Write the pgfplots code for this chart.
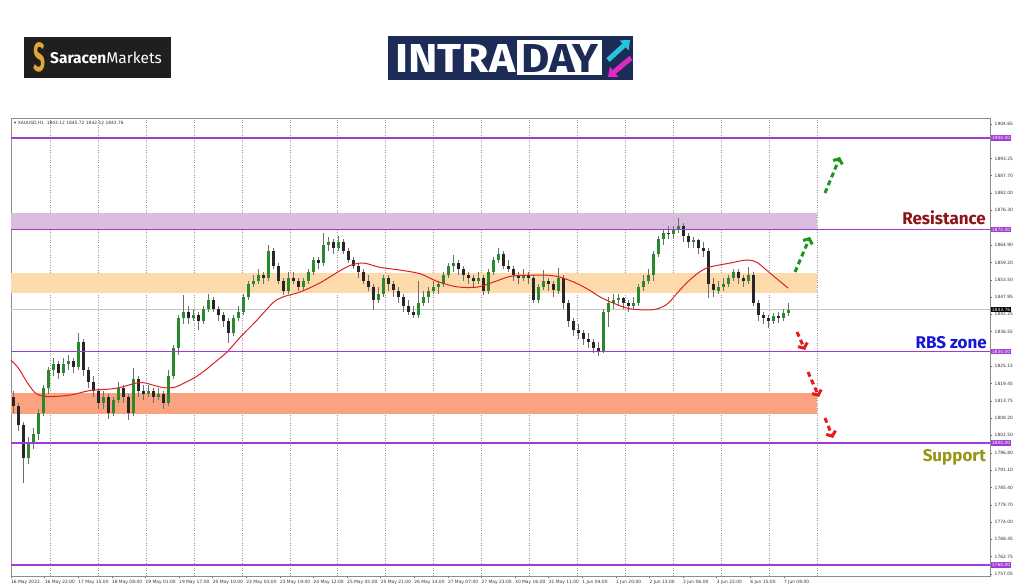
\documentclass[border=0pt]{standalone}
\usepackage{fontspec}
\setmainfont{DejaVu Sans}
\newfontfamily\fira{Fira Sans}
\usepackage{pgfplots}
\pgfplotsset{compat=1.18}
\usepackage{pgfplotstable}
\usetikzlibrary{arrows.meta}
\definecolor{purp}{RGB}{160,60,210}
\definecolor{zpurp}{RGB}{216,190,220}
\definecolor{zpeach}{RGB}{252,218,172}
\definecolor{zsalmon}{RGB}{251,162,128}
\definecolor{upc}{RGB}{40,138,40}
\definecolor{dnc}{RGB}{38,38,38}
\definecolor{wickc}{RGB}{110,110,110}
\definecolor{mared}{RGB}{218,36,36}
\definecolor{resred}{RGB}{140,20,20}
\definecolor{rbsblue}{RGB}{22,22,215}
\definecolor{supolive}{RGB}{150,150,22}
\definecolor{arrgreen}{RGB}{30,150,30}
\definecolor{arrred}{RGB}{228,28,28}
\definecolor{navy}{RGB}{28,44,87}
\definecolor{gold}{RGB}{222,166,52}
\definecolor{cyanc}{RGB}{40,196,222}
\definecolor{magc}{RGB}{226,40,196}

\pgfplotstableread{
o h l c
1815 1817 1810 1812
1812 1813 1804 1806
1806 1807 1787 1795
1795 1802 1793 1800
1800 1805 1798 1803
1803 1811 1801 1810
1810 1819 1809 1818
1818 1825 1816 1824
1824 1828 1822 1826
1826 1827 1821 1823
1823 1828 1822 1826
1826 1829 1824 1827
1827 1828 1823 1825
1825 1836 1824 1833
1833 1834 1822 1824
1824 1825 1818 1820
1820 1822 1815 1817
1817 1818 1811 1813
1813 1817 1811 1815
1815 1816 1808 1810
1810 1815 1809 1814
1814 1820 1813 1818
1818 1819 1813 1815
1815 1816 1807.5 1810
1810 1824.6 1809 1821
1821 1822 1815 1817
1817 1819 1814 1816
1816 1819 1815 1817
1817 1818 1813 1815
1815 1818 1814 1816
1816 1817 1811 1813
1813 1824 1812 1822
1822 1832 1821 1831
1831 1842 1829 1841
1841 1848.5 1839 1843
1843 1845 1839 1841
1841 1844 1840 1842
1842 1843 1837 1840
1840 1845 1839 1844
1844 1849 1843 1847
1847 1848 1843 1844
1844 1845 1840 1842
1842 1843 1838 1840
1840 1841 1832.8 1836
1836 1842 1835 1841
1841 1845 1840 1843
1843 1849 1842 1848
1848 1853 1847 1852
1852 1855 1851 1853
1853 1857 1852 1855
1855 1856 1852 1854
1854 1865 1853 1863
1863 1864 1857 1858
1858 1859 1852 1853
1853 1854 1848.5 1850
1850 1856 1849 1854
1854 1856 1852 1853
1853 1854 1850 1851
1851 1854 1850 1853
1853 1857 1852 1856
1856 1861 1855 1860
1860 1861 1857 1859
1859 1868.8 1858 1865
1865 1867.5 1863 1866
1866 1867 1862 1864
1864 1868 1863 1866
1866 1867 1862 1863
1863 1864 1859 1860
1860 1861 1857 1858
1858 1859 1854 1856
1856 1857 1852 1853
1853 1855 1850 1851
1851 1852 1843.6 1847
1847 1851 1846 1849
1849 1855 1848 1854
1854 1855 1850 1852
1852 1853 1848 1850
1850 1851 1846 1848
1848 1849 1843 1845
1845 1847 1842 1843
1843 1845 1841 1842
1842 1853 1841 1846
1846 1850 1845 1848
1848 1851 1846 1850
1850 1853 1849 1851
1851 1853 1849 1852
1852 1856 1851 1855
1855 1859 1854 1858
1858 1861.6 1856 1859
1859 1860 1855 1857
1857 1858 1853 1855
1855 1856 1852 1854
1854 1855 1851 1853
1853 1856 1852 1854
1854 1855 1848.5 1850
1850 1857 1849 1856
1856 1861 1855 1860
1860 1864 1859 1862
1862 1863 1857 1858
1858 1860 1856 1857
1857 1858 1853 1855
1855 1856 1852 1854
1854 1857 1853 1855
1855 1856 1852 1854
1854 1855 1846 1847
1847 1852 1846 1851
1851 1856.7 1850 1853
1853 1854 1850 1852
1852 1853 1848 1850
1850 1857.5 1849 1854
1854 1855 1844 1846
1846 1847 1838 1840
1840 1841 1835 1837
1837 1839 1834 1836
1836 1837 1832 1834
1834 1836 1831 1833
1833 1834 1829.5 1831
1831 1833 1828.5 1830
1830 1844 1829.5 1843
1843 1848 1838 1846
1846 1849 1844 1847
1847 1849 1845 1847.5
1847.5 1848 1844 1846
1846 1847 1843 1845
1845 1848 1844 1846
1846 1852 1845 1851
1851 1855 1850 1853
1853 1857 1852 1855
1855 1863 1853 1862
1862 1868 1861 1867
1867 1870 1865 1869
1869 1871 1867 1868.5
1868.5 1871 1867 1870
1870 1873.8 1869 1871
1871 1872 1866 1868
1868 1869 1864 1866
1866 1867.5 1864 1866.5
1866.5 1867 1862 1864
1864 1866 1861 1863
1863 1864 1847.5 1852
1852 1854 1848 1850
1850 1853 1849 1851
1851 1854 1850 1852
1852 1855 1851 1854
1854 1857 1853 1856
1856 1857 1852 1854
1854 1855 1851 1853
1853 1857.7 1852 1855
1855 1856 1845 1846
1846 1847 1840 1842
1842 1843 1839 1841
1841 1842 1837.7 1840
1840 1842.5 1839 1841.5
1841.5 1843 1839.5 1841
1841 1844 1840 1842.5
1842.5 1846 1841.5 1843.76
}\candles

\begin{document}
\begin{tikzpicture}[x=1pt,y=1pt]
\path[use as bounding box] (0,0) rectangle (1024,587);
\fill[white] (0,0) rectangle (1024,587);
% Saracen logo
\fill[black!88] (24,509) rectangle (171,550);
\node[inner sep=0, text=gold] at (39.5,529.5) {\resizebox{12pt}{29pt}{\fira\bfseries S}};
\node[anchor=west, inner sep=0, text=white, font=\fira\fontsize{15.5}{16}\selectfont] at (50,529.5) {\textbf{Saracen}Markets};
% INTRADAY logo
\fill[navy] (388,507) rectangle (633,551);
\node[anchor=south west, inner sep=0, text=white] at (395,514) {\resizebox{120pt}{28pt}{\fira\bfseries INTRA}};
\fill[white] (517,512) rectangle (602,547);
\node[anchor=south west, inner sep=0, text=navy] at (521,514) {\resizebox{77pt}{28pt}{\fira\bfseries DAY}};
\draw[cyanc, line width=5pt, -{Triangle[length=8pt,width=13pt]}] (608,527) -- (630,547);
\draw[magc, line width=5pt, -{Triangle[length=8pt,width=13pt]}] (631,529) -- (608,510);

\begin{axis}[
  at={(11pt,11pt)}, anchor=south west,
  width=979pt, height=458pt, scale only axis,
  xmin=11, xmax=990, ymin=1756.393, ymax=1906.557,
  clip=false,
  axis line style={draw=black!45, line width=0.6pt},
  tick style={draw=black!60, line width=0.4pt},
  major tick length=2pt, tick align=outside,
  xtick pos=left, ytick pos=right, yticklabel pos=right,
  xtick={11,44.6,78.2,111.8,145.4,179,212.6,246.2,279.8,313.4,347,380.6,414.2,447.8,481.4,515,548.6,582.2,615.8,649.4,683,716.6,750.2,783.8},
  xticklabels={16 May 2022,16 May 22:00,17 May 15:00,18 May 08:00,19 May 01:00,19 May 17:00,20 May 10:00,23 May 03:00,23 May 19:00,24 May 12:00,25 May 05:00,25 May 21:00,26 May 14:00,27 May 07:00,27 May 23:00,30 May 16:00,31 May 11:00,1 Jun 04:00,1 Jun 20:00,2 Jun 13:00,3 Jun 06:00,3 Jun 22:00,6 Jun 15:00,7 Jun 08:00},
  xticklabel style={font=\fontsize{4.4}{5}\selectfont, anchor=north west, inner sep=0pt, yshift=-2.5pt, text=black!80},
  ytick={1904.65,1893.25,1887.70,1882.00,1876.30,1864.90,1859.20,1853.50,1847.95,1842.25,1836.55,1825.15,1819.45,1813.75,1808.20,1802.50,1796.80,1791.10,1785.40,1779.70,1774.00,1768.45,1762.75,1757.05},
  yticklabels={1904.65,1893.25,1887.70,1882.00,1876.30,1864.90,1859.20,1853.50,1847.95,1842.25,1836.55,1825.15,1819.45,1813.75,1808.20,1802.50,1796.80,1791.10,1785.40,1779.70,1774.00,1768.45,1762.75,1757.05},
  yticklabel style={font=\fontsize{4.4}{5}\selectfont, anchor=west, inner sep=0pt, xshift=2.5pt, text=black!80},
  extra x ticks={50,97.94,145.88,193.82,241.76,289.7,337.64,385.58,433.52,481.46,529.4,577.34,625.28,673.22,721.16,769.1,817.04},
  extra x tick labels={},
  extra x tick style={grid=major, major tick length=0pt},
  major grid style={draw=black!40, dash pattern=on 1pt off 1.5pt, line width=0.4pt},
]
% zones
\fill[zpurp] (axis cs:11,1870) rectangle (axis cs:817,1875.4);
\fill[zpeach] (axis cs:11,1849.2) rectangle (axis cs:817,1855.8);
\fill[zsalmon] (axis cs:11,1809.5) rectangle (axis cs:817,1816.4);
% current price line
\fill[black!22] (axis cs:11,1843.68) rectangle (axis cs:990,1843.84);
% wicks
\addplot[draw=none, mark=none, forget plot, error bars/.cd, y dir=both, y explicit, error mark=none,
  error bar style={draw=wickc, line width=0.5pt}]
  table[x expr=13.5+5*\coordindex, y expr=(\thisrow{h}+\thisrow{l})/2, y error expr=(\thisrow{h}-\thisrow{l})/2] {\candles};
% up bodies (zero-length bar for down candles)
\addplot[draw=none, mark=none, forget plot, error bars/.cd, y dir=both, y explicit, error mark=none,
  error bar style={draw=upc, line width=2.1pt}]
  table[x expr=13.5+5*\coordindex, y expr=0.5*(\thisrow{o}+\thisrow{c}), y error expr={ifthenelse(\thisrow{c}>=\thisrow{o}, max(0.5*abs(\thisrow{c}-\thisrow{o}),0.25), 0)}] {\candles};
% down bodies
\addplot[draw=none, mark=none, forget plot, error bars/.cd, y dir=both, y explicit, error mark=none,
  error bar style={draw=dnc, line width=2.1pt}]
  table[x expr=13.5+5*\coordindex, y expr=0.5*(\thisrow{o}+\thisrow{c}), y error expr={ifthenelse(\thisrow{c}<\thisrow{o}, max(0.5*abs(\thisrow{c}-\thisrow{o}),0.25), 0)}] {\candles};
% moving average
\addplot[draw=mared, line width=1pt, smooth, forget plot] coordinates {
(11,1827.2) (16,1825.5) (20,1823.8) (25,1821) (30,1818.5) (35,1816.5) (40,1815.6) (50,1815.2) (70,1815.7) (90,1817.2) (110,1817.7) (120,1818.2) (137,1819.7) (145,1819.7) (155,1818.8) (165,1818.1) (175,1818.3) (185,1819.8) (195,1821.5) (205,1823.8) (215,1826.5) (227,1829.8) (240,1834.6) (257,1840.3) (273,1846) (283,1847.9) (300,1849.5) (320,1852.5) (340,1856.5) (350,1858.2) (360,1859) (367,1858.8) (380,1857.6) (400,1856.7) (420,1855.5) (437,1853) (457,1851.2) (477,1851.1) (493,1852.7) (510,1854.6) (527,1855) (547,1855) (560,1854.4) (577,1852.3) (590,1850) (600,1847.9) (613,1845.9) (630,1844) (653,1843.7) (667,1845.5) (680,1850.2) (693,1854.4) (707,1857.4) (730,1859) (747,1860) (757,1859.2) (770,1855.7) (788,1850.8)};
% horizontal levels as thin filled bands
\fill[purp] (axis cs:11,1899.72) rectangle (axis cs:990,1900.28);
\fill[purp] (axis cs:11,1869.72) rectangle (axis cs:990,1870.28);
\fill[purp] (axis cs:11,1829.72) rectangle (axis cs:990,1830.28);
\fill[purp] (axis cs:11,1799.72) rectangle (axis cs:990,1800.28);
\fill[purp] (axis cs:11,1759.72) rectangle (axis cs:990,1760.28);
% price boxes
\node[fill=purp, text=white, font=\fontsize{4.4}{5}\selectfont, inner xsep=1.2pt, inner ysep=0.9pt, anchor=west] at (axis cs:990.5,1900) {1900.00};
\node[fill=purp, text=white, font=\fontsize{4.4}{5}\selectfont, inner xsep=1.2pt, inner ysep=0.9pt, anchor=west] at (axis cs:990.5,1870) {1870.00};
\node[fill=purp, text=white, font=\fontsize{4.4}{5}\selectfont, inner xsep=1.2pt, inner ysep=0.9pt, anchor=west] at (axis cs:990.5,1830) {1830.00};
\node[fill=purp, text=white, font=\fontsize{4.4}{5}\selectfont, inner xsep=1.2pt, inner ysep=0.9pt, anchor=west] at (axis cs:990.5,1800) {1800.00};
\node[fill=purp, text=white, font=\fontsize{4.4}{5}\selectfont, inner xsep=1.2pt, inner ysep=0.9pt, anchor=west] at (axis cs:990.5,1760) {1760.00};
\node[fill=black, text=white, font=\fontsize{4.4}{5}\selectfont, inner xsep=1.2pt, inner ysep=0.9pt, anchor=west] at (axis cs:990.5,1843.76) {1843.76};
\end{axis}

% header
\node[anchor=west, inner sep=0, font=\fontsize{4.4}{5}\selectfont, text=black!80] at (14,464) {▾ XAUUSD,H1\ \ 1843.12 1845.72 1842.12 1843.76};

% arrows
\draw[arrgreen, line width=3pt, dash pattern=on 5pt off 3.5pt, -{Straight Barb[length=4pt,width=10pt]}] (825,394) -- (840,430);
\draw[arrgreen, line width=3pt, dash pattern=on 5pt off 3.5pt, -{Straight Barb[length=4pt,width=10pt]}] (795,315) -- (810,350);
\draw[arrred, line width=3pt, dash pattern=on 5pt off 3.5pt, -{Straight Barb[length=4pt,width=10pt]}] (797,255) -- (805,237);
\draw[arrred, line width=3pt, dash pattern=on 5pt off 3.5pt, -{Straight Barb[length=4pt,width=10pt]}] (808,215) -- (819,190);
\draw[arrred, line width=3pt, dash pattern=on 5pt off 3.5pt, -{Straight Barb[length=4pt,width=10pt]}] (825,169) -- (833,149);

% labels
\node[anchor=base east, inner sep=0, text=resred, font=\fira\bfseries\fontsize{17}{18}\selectfont] at (986,362) {Resistance};
\node[anchor=base east, inner sep=0, text=rbsblue, font=\fira\bfseries\fontsize{17}{18}\selectfont] at (987,239) {RBS zone};
\node[anchor=base east, inner sep=0, text=supolive, font=\fira\bfseries\fontsize{17}{18}\selectfont] at (986,126) {Support};
\end{tikzpicture}
\end{document}
